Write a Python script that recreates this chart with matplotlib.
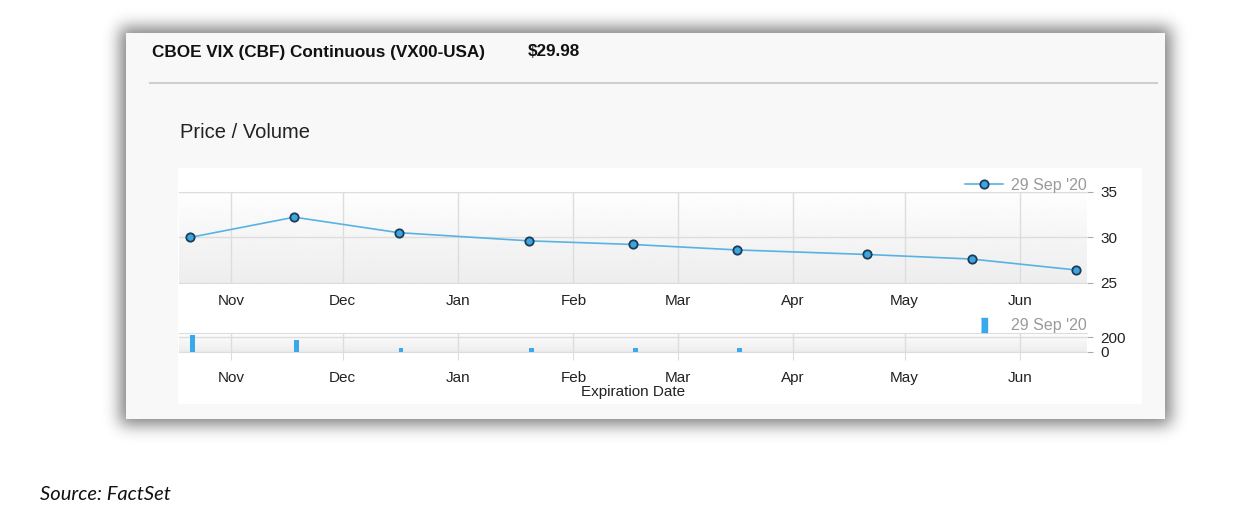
import matplotlib
matplotlib.use("Agg")
import matplotlib.pyplot as plt
import matplotlib.dates as mdates
from matplotlib.lines import Line2D
from matplotlib.patches import Rectangle
import numpy as np
import pandas as pd

# data
expiries = pd.to_datetime(["2020-10-21", "2020-11-18", "2020-12-16", "2021-01-20", "2021-02-17",
                           "2021-03-17", "2021-04-21", "2021-05-19", "2021-06-16"])
price = [29.98, 32.2, 30.5, 29.6, 29.2, 28.6, 28.1, 27.6, 26.4]
volume = [232, 162, 45, 45, 45, 45, 0, 0, 0]
series_label = "29 Sep '20"
price_ticks = [25, 30, 35]
volume_ticks = [0, 200]

plt.rcParams['font.family'] = ['Liberation Sans', 'DejaVu Sans']

W, H = 1246, 524
fig = plt.figure(figsize=(W / 100, H / 100), dpi=100)

# background layer in pixel coordinates (card + shadow)
bg = fig.add_axes([0, 0, 1, 1])
bg.set_xlim(0, W)
bg.set_ylim(H, 0)
bg.axis('off')

def blur1d(n, a, b, sigma):
    ind = np.zeros(n)
    ind[a:b] = 1.0
    k = np.arange(-4 * sigma, 4 * sigma + 1)
    k = np.exp(-0.5 * (k / sigma) ** 2)
    k /= k.sum()
    return np.convolve(ind, k, mode='same')

fx = blur1d(W, 120, 1171, 8)
fy = blur1d(H, 27, 425, 8)
shade = 1 - 0.5 * np.outer(fy, fx)
bg.imshow(shade, extent=[0, W, H, 0], cmap='gray', vmin=0, vmax=1, aspect='auto', zorder=0)
bg.add_patch(Rectangle((126, 33), 1039, 386, facecolor='#f8f8f8', edgecolor='none', zorder=1))
bg.add_patch(Rectangle((178, 168), 964, 236, facecolor='#ffffff', edgecolor='none', zorder=2))
bg.plot([150, 1157], [83, 83], color='#cfcfcf', lw=1.5, zorder=3)

bg.text(152, 52, "CBOE VIX (CBF) Continuous (VX00-USA)", fontsize=12.3, fontweight='bold',
        color='#111111', va='center', ha='left', zorder=4)
bg.text(528, 52, "$29.98", fontsize=12.3, fontweight='bold', color='#111111',
        va='center', ha='left', zorder=4)
bg.text(180, 132, "Price / Volume", fontsize=14.5, color='#222222', va='center', ha='left', zorder=4)
bg.text(40, 494, "Source: FactSet", fontsize=14.5, style='italic', family=['Lato', 'DejaVu Sans'],
        color='#111111', va='center', ha='left', zorder=4)

def frac(x0, y0, x1, y1):
    return [x0 / W, 1 - y1 / H, (x1 - x0) / W, (y1 - y0) / H]

xmin = pd.Timestamp("2020-10-18")
xmax = pd.Timestamp("2021-06-19")

def style_axis(ax, yticks, ylim, tick_len, pad):
    grad = np.linspace(0.995, 0.93, 50).reshape(-1, 1)
    ax.imshow(grad, extent=[0, 1, 0, 1], origin='upper', transform=ax.transAxes, cmap='gray',
              vmin=0, vmax=1, aspect='auto', zorder=0)
    ax.set_xlim(xmin, xmax)
    ax.set_ylim(*ylim)
    ax.set_facecolor('none')
    ax.xaxis.set_major_locator(mdates.MonthLocator())
    ax.xaxis.set_major_formatter(mdates.DateFormatter('%b'))
    ax.set_yticks(yticks)
    ax.yaxis.tick_right()
    ax.tick_params(axis='x', length=tick_len, color='#dddddd', pad=pad, labelsize=11,
                   labelcolor='#222222')
    ax.tick_params(axis='y', length=4.5, color='#aaaaaa', pad=5, labelsize=11,
                   labelcolor='#222222')
    ax.grid(True, color='#dddddd', lw=1)
    ax.set_axisbelow(True)
    for s in ['left', 'right']:
        ax.spines[s].set_visible(False)
    for s in ['top', 'bottom']:
        ax.spines[s].set_color('#dddddd')

# price panel
ax1 = fig.add_axes(frac(179, 191.7, 1087, 282.7))
style_axis(ax1, price_ticks, (25, 35), 0, 8)
ax1.plot(expiries, price, color='#58b3e2', lw=1.2, marker='o', ms=6,
         mfc='#3ea6df', mec='#1d3a57', mew=1.3, zorder=3)
h1 = Line2D([], [], color='#58b3e2', lw=1.2, marker='o', ms=6, mfc='#3ea6df', mec='#1d3a57', mew=1.3)
leg1 = ax1.legend([h1], [series_label], loc='lower right', bbox_to_anchor=(1.0, 0.99),
                  frameon=False, handlelength=2.4, handletextpad=0.5, borderpad=0,
                  borderaxespad=0, fontsize=11.5, labelcolor='#9a9a9a')

# volume panel
ax2 = fig.add_axes(frac(179, 333.3, 1087, 351.7))
style_axis(ax2, volume_ticks, (0, 254), 5.8, 8)
ax2.bar(expiries, volume, width=1.3, align='edge', color='#3aa9ec', zorder=3)
ax2.set_xlabel("Expiration Date", fontsize=11, color='#222222', labelpad=0)
h2 = Line2D([], [], ls='none', marker=[(-0.22, -0.5), (0.22, -0.5), (0.22, 0.5), (-0.22, 0.5)],
            ms=10, color='#3aa9ec')
leg2 = ax2.legend([h2], [series_label], loc='lower right', bbox_to_anchor=(1.0, 1.0),
                  frameon=False, handlelength=2.4, handletextpad=0.5, borderpad=0,
                  borderaxespad=0, fontsize=11.5, labelcolor='#9a9a9a')

fig.savefig("out.png", dpi=100)
